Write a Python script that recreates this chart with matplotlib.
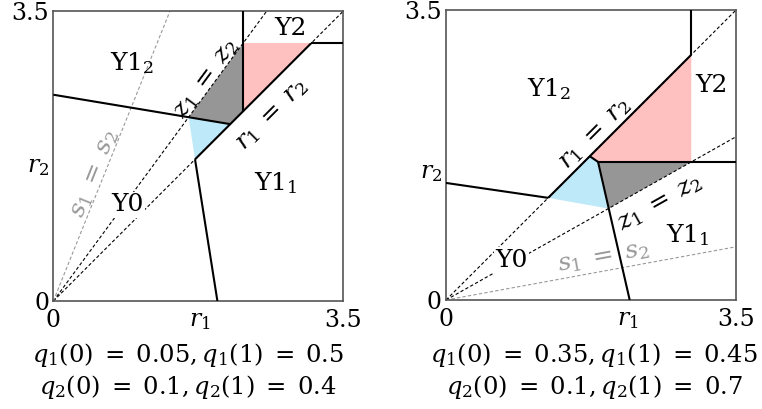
import numpy as np
import matplotlib.pyplot as plt

plt.rcParams['font.family'] = ['DejaVu Serif']
plt.rcParams['mathtext.fontset'] = 'dejavuserif'

LIM = 3.5
FS = 18      # region names and line labels
FS_TICK = 17
FS_CAP = 17.5

# ----------------------------
# Left panel: q1(0)=0.05, q1(1)=0.5, q2(0)=0.1, q2(1)=0.4
# ----------------------------
left_z_slope = 1.359   # z1 = z2
left_s_slope = 2.486   # s1 = s2
left_pink = [(2.29, 2.29), (2.29, 3.11), (3.11, 3.11)]
left_gray = [(1.633, 2.219), (2.29, 3.11), (2.29, 2.29), (2.135, 2.135)]
left_blue = [(1.633, 2.219), (2.135, 2.135), (1.71, 1.71)]
left_walls = [
    [(0, 2.49), (2.135, 2.135)],
    [(1.71, 1.71), (1.98, 0)],
    [(1.71, 1.71), (3.11, 3.11)],
    [(2.29, 2.29), (2.29, 3.5)],
    [(3.11, 3.11), (3.5, 3.11)],
]
left_r1_tick = 1.77
left_r2_tick = 1.66
left_caption = [r'$q_1(0)\;=\;0.05,q_1(1)\;=\;0.5$', r'$q_2(0)\;=\;0.1,q_2(1)\;=\;0.4$']

# ----------------------------
# Right panel: q1(0)=0.35, q1(1)=0.45, q2(0)=0.1, q2(1)=0.7
# ----------------------------
right_z_slope = 0.563
right_s_slope = 0.1835
right_pink = [(1.735, 1.735), (2.96, 2.96), (2.96, 1.667), (1.835, 1.667)]
right_gray = [(1.835, 1.667), (2.96, 1.667), (1.96, 1.104)]
right_blue = [(1.233, 1.233), (1.735, 1.735), (1.835, 1.667), (1.96, 1.104)]
right_walls = [
    [(0, 1.413), (1.233, 1.233)],
    [(1.233, 1.233), (2.96, 2.96)],
    [(1.735, 1.735), (1.835, 1.667)],
    [(1.835, 1.667), (2.217, 0)],
    [(1.835, 1.667), (3.5, 1.667)],
    [(2.96, 2.96), (2.96, 3.5)],
]
right_r1_tick = 2.19
right_r2_tick = 1.57
right_caption = [r'$q_1(0)\;=\;0.35,q_1(1)\;=\;0.45$', r'$q_2(0)\;=\;0.1,q_2(1)\;=\;0.7$']

PINK = '#ffc0c0'
GRAY = '#969696'
BLUE = '#bee9f9'


def ray(ax, slope, **kw):
    # dashed ray from the origin to the box edge
    if slope >= 1:
        xe, ye = LIM / slope, LIM
    else:
        xe, ye = LIM, LIM * slope
    ax.plot([0, xe], [0, ye], **kw)


def draw_panel(ax, pink, gray, blue, walls, zs, ss, r1t, r2t):
    for poly, c in [(pink, PINK), (gray, GRAY), (blue, BLUE)]:
        xs, ys = zip(*poly)
        ax.fill(xs, ys, color=c, lw=0, zorder=1)
    dash = dict(ls=(0, (3, 2)), lw=0.8, zorder=2)
    ray(ax, 1.0, color='k', **dash)
    ray(ax, zs, color='k', **dash)
    ray(ax, ss, color='#999999', **dash)
    for seg in walls:
        xs, ys = zip(*seg)
        ax.plot(xs, ys, color='k', lw=1.5, zorder=3, solid_capstyle='butt')
    ax.set_xlim(0, LIM)
    ax.set_ylim(0, LIM)
    ax.set_xticks([0, r1t, LIM])
    ax.set_xticklabels(['0', '$r_1$', '3.5'])
    ax.set_yticks([0, r2t, LIM])
    ax.set_yticklabels(['0', '$r_2$', '3.5'])
    ax.tick_params(length=0, labelsize=FS_TICK, pad=3)
    ax.tick_params(axis='x', pad=6)
    for sp in ax.spines.values():
        sp.set_color('#555555')
        sp.set_linewidth(1.2)


fig = plt.figure(figsize=(7.62, 4.09), dpi=100)
axL = fig.add_axes([0.070, 0.264, 0.3806, 0.709])
axR = fig.add_axes([0.5853, 0.2665, 0.3806, 0.709])

draw_panel(axL, left_pink, left_gray, left_blue, left_walls,
           left_z_slope, left_s_slope, left_r1_tick, left_r2_tick)
draw_panel(axR, right_pink, right_gray, right_blue, right_walls,
           right_z_slope, right_s_slope, right_r1_tick, right_r2_tick)

white = dict(facecolor='white', edgecolor='none', pad=1)
eq = dict(fontsize=FS, ha='center', va='center')

# region names, left
axL.text(0.95, 2.87, 'Y1$_2$', **eq)
axL.text(2.86, 3.29, 'Y2', **eq)
axL.text(2.68, 1.42, 'Y1$_1$', **eq)
axL.text(0.89, 1.16, 'Y0', bbox=white, zorder=4, **eq)
axL.text(1.85, 2.69, r'$z_1\;=\;z_2$', rotation=np.degrees(np.arctan(left_z_slope)), **eq)
axL.text(2.64, 2.25, r'$r_1\;=\;r_2$', rotation=45, **eq)
axL.text(0.50, 1.54, r'$s_1\;=\;s_2$', color='#999999',
         rotation=np.degrees(np.arctan(left_s_slope)), **eq)

# region names, right
axR.text(1.25, 2.55, 'Y1$_2$', **eq)
axR.text(3.20, 2.59, 'Y2', **eq)
axR.text(2.92, 0.78, 'Y1$_1$', **eq)
axR.text(0.79, 0.48, 'Y0', bbox=white, zorder=4, **eq)
axR.text(1.80, 2.01, r'$r_1\;=\;r_2$', rotation=45, **eq)
axR.text(2.58, 1.165, r'$z_1\;=\;z_2$', rotation=np.degrees(np.arctan(right_z_slope)), **eq)
axR.text(1.90, 0.52, r'$s_1\;=\;s_2$', color='#999999',
         rotation=np.degrees(np.arctan(right_s_slope)), **eq)

for xc, cap in [(0.247, left_caption), (0.7795, right_caption)]:
    fig.text(xc, 0.132, cap[0], fontsize=FS_CAP, ha='center', va='center')
    fig.text(xc, 0.054, cap[1], fontsize=FS_CAP, ha='center', va='center')

fig.savefig('out.png', dpi=100)
